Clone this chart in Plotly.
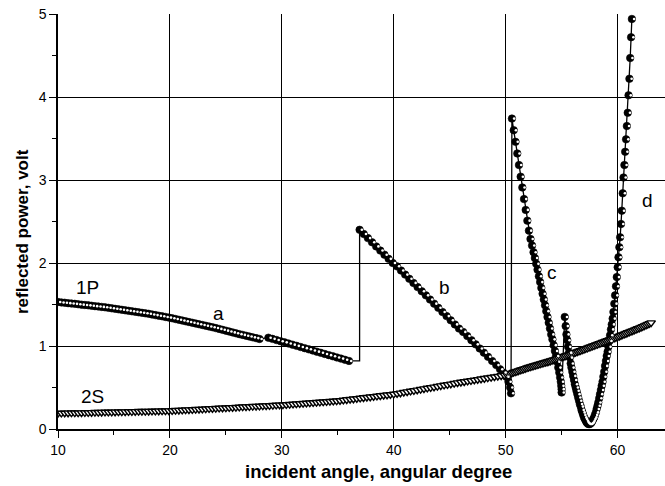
import plotly.graph_objects as go

# ---------------- data ----------------
# series 2S (triangles)
s2_x = [10.0, 10.3, 10.6, 10.9, 11.2, 11.5, 11.8, 12.1, 12.4, 12.7,
        13.0, 13.3, 13.6, 13.9, 14.2, 14.5, 14.8, 15.1, 15.4, 15.7,
        16.0, 16.3, 16.6, 16.9, 17.2, 17.5, 17.8, 18.1, 18.4, 18.7,
        19.0, 19.3, 19.6, 19.9, 20.2, 20.5, 20.8, 21.1, 21.4, 21.7,
        22.0, 22.3, 22.6, 22.9, 23.2, 23.5, 23.8, 24.1, 24.4, 24.7,
        25.0, 25.3, 25.6, 25.9, 26.2, 26.5, 26.8, 27.1, 27.4, 27.7,
        28.0, 28.3, 28.6, 28.9, 29.2, 29.5, 29.8, 30.1, 30.4, 30.7,
        31.0, 31.3, 31.6, 31.9, 32.2, 32.5, 32.8, 33.1, 33.4, 33.7,
        34.0, 34.3, 34.6, 34.9, 35.2, 35.5, 35.8, 36.1, 36.4, 36.7,
        37.0, 37.3, 37.6, 37.9, 38.2, 38.5, 38.8, 39.1, 39.4, 39.7,
        40.0, 40.3, 40.6, 40.9, 41.2, 41.5, 41.8, 42.1, 42.4, 42.7,
        43.0, 43.3, 43.6, 43.9, 44.2, 44.5, 44.8, 45.1, 45.4, 45.7,
        46.0, 46.3, 46.6, 46.9, 47.2, 47.5, 47.8, 48.1, 48.4, 48.7,
        49.0, 49.3, 49.6, 49.9,
        50.10, 50.25, 50.40, 50.55, 50.70, 50.85, 51.00, 51.15, 51.30, 51.45,
        51.60, 51.75, 51.90, 52.05, 52.20, 52.35, 52.50, 52.65, 52.80, 52.95,
        53.10, 53.25, 53.40, 53.55, 53.70, 53.85, 54.00, 54.15, 54.30, 54.45,
        54.60, 54.75, 54.90, 55.05, 55.20, 55.35, 55.50, 55.65, 55.80, 55.95,
        56.10, 56.25, 56.40, 56.55, 56.70, 56.85, 57.00, 57.15, 57.30, 57.45,
        57.60, 57.75, 57.90, 58.05, 58.20, 58.35, 58.50, 58.65, 58.80, 58.95,
        59.10, 59.25, 59.40, 59.55, 59.70, 59.85, 60.00, 60.15, 60.30, 60.45,
        60.60, 60.75, 60.90, 61.05, 61.20, 61.35, 61.50, 61.65, 61.80, 61.95,
        62.10, 62.25, 62.40, 62.55, 62.70, 62.85, 63.00]
s2_y = [0.190, 0.191, 0.192, 0.193, 0.194, 0.195, 0.195, 0.196, 0.197, 0.198,
        0.199, 0.200, 0.201, 0.202, 0.203, 0.204, 0.204, 0.205, 0.206, 0.207,
        0.208, 0.209, 0.210, 0.211, 0.212, 0.213, 0.213, 0.214, 0.215, 0.216,
        0.217, 0.218, 0.219, 0.220, 0.221, 0.224, 0.226, 0.228, 0.230, 0.232,
        0.234, 0.236, 0.238, 0.240, 0.242, 0.245, 0.247, 0.249, 0.251, 0.253,
        0.255, 0.257, 0.259, 0.261, 0.263, 0.266, 0.268, 0.270, 0.272, 0.274,
        0.276, 0.278, 0.280, 0.282, 0.284, 0.287, 0.289, 0.291, 0.294, 0.297,
        0.300, 0.303, 0.306, 0.309, 0.312, 0.315, 0.318, 0.321, 0.324, 0.327,
        0.330, 0.333, 0.336, 0.339, 0.343, 0.348, 0.353, 0.358, 0.362, 0.367,
        0.372, 0.377, 0.382, 0.386, 0.391, 0.396, 0.401, 0.406, 0.410, 0.415,
        0.420, 0.427, 0.434, 0.442, 0.449, 0.456, 0.463, 0.470, 0.478, 0.485,
        0.492, 0.499, 0.506, 0.514, 0.521, 0.528, 0.535, 0.542, 0.550, 0.557,
        0.564, 0.570, 0.577, 0.583, 0.590, 0.596, 0.603, 0.609, 0.616, 0.622,
        0.629, 0.635, 0.642, 0.648,
        0.655, 0.661, 0.668, 0.675, 0.682, 0.688, 0.695, 0.702, 0.709, 0.715,
        0.722, 0.729, 0.736, 0.742, 0.748, 0.754, 0.760, 0.766, 0.772, 0.778,
        0.784, 0.790, 0.796, 0.802, 0.808, 0.814, 0.820, 0.827, 0.834, 0.840,
        0.847, 0.854, 0.861, 0.867, 0.874, 0.881, 0.888, 0.894, 0.901, 0.908,
        0.915, 0.923, 0.930, 0.938, 0.945, 0.953, 0.960, 0.968, 0.975, 0.983,
        0.990, 0.998, 1.005, 1.013, 1.020, 1.028, 1.035, 1.043, 1.050, 1.058,
        1.065, 1.073, 1.080, 1.088, 1.095, 1.103, 1.110, 1.118, 1.127, 1.135,
        1.143, 1.151, 1.160, 1.168, 1.176, 1.184, 1.193, 1.201, 1.209, 1.217,
        1.226, 1.235, 1.244, 1.253, 1.262, 1.271, 1.280]

# series 1P, branch a (two pieces with a small gap)
a1_x = [10.0, 10.3, 10.6, 10.9, 11.2, 11.5, 11.8, 12.1, 12.4, 12.7,
        13.0, 13.3, 13.6, 13.9, 14.2, 14.5, 14.8, 15.1, 15.4, 15.7,
        16.0, 16.3, 16.6, 16.9, 17.2, 17.5, 17.8, 18.1, 18.4, 18.7,
        19.0, 19.3, 19.6, 19.9, 20.2, 20.5, 20.8, 21.1, 21.4, 21.7,
        22.0, 22.3, 22.6, 22.9, 23.2, 23.5, 23.8, 24.1, 24.4, 24.7,
        25.0, 25.3, 25.6, 25.9, 26.2, 26.5, 26.8, 27.1, 27.4, 27.7,
        28.0]
a1_y = [1.530, 1.525, 1.521, 1.516, 1.512, 1.508, 1.503, 1.498, 1.494, 1.490,
        1.485, 1.480, 1.476, 1.471, 1.466, 1.460, 1.454, 1.448, 1.442, 1.436,
        1.430, 1.424, 1.418, 1.412, 1.406, 1.400, 1.394, 1.388, 1.380, 1.372,
        1.365, 1.358, 1.350, 1.342, 1.334, 1.325, 1.316, 1.307, 1.298, 1.289,
        1.280, 1.271, 1.262, 1.253, 1.244, 1.235, 1.226, 1.216, 1.206, 1.195,
        1.185, 1.174, 1.164, 1.153, 1.143, 1.134, 1.124, 1.114, 1.104, 1.095,
        1.085]
a2_x = [28.80, 29.16, 29.52, 29.88, 30.24, 30.60, 30.96, 31.32, 31.68, 32.04,
        32.40, 32.76, 33.12, 33.48, 33.84, 34.20, 34.56, 34.92, 35.28, 35.64,
        36.00]
a2_y = [1.100, 1.086, 1.072, 1.058, 1.044, 1.030, 1.016, 1.002, 0.988, 0.974,
        0.960, 0.946, 0.932, 0.918, 0.904, 0.890, 0.876, 0.862, 0.848, 0.834,
        0.820]

# branch b
b_x = [36.95, 37.32, 37.69, 38.06, 38.43, 38.80, 39.17, 39.54, 39.91, 40.28,
       40.65, 41.02, 41.39, 41.76, 42.13, 42.50, 42.87, 43.24, 43.61, 43.98,
       44.35, 44.72, 45.09, 45.46, 45.83, 46.20, 46.57, 46.94, 47.31, 47.68,
       48.05, 48.42, 48.79, 49.16, 49.50, 49.80, 50.05, 50.25, 50.40, 50.48]
b_y = [2.40, 2.35, 2.30, 2.25, 2.20, 2.15, 2.10, 2.05, 2.00, 1.96,
       1.91, 1.86, 1.81, 1.76, 1.71, 1.66, 1.61, 1.56, 1.51, 1.46,
       1.41, 1.36, 1.31, 1.26, 1.21, 1.17, 1.12, 1.07, 1.02, 0.97,
       0.92, 0.87, 0.82, 0.77, 0.72, 0.68, 0.63, 0.57, 0.50, 0.43]

# branch c
c_x = [50.56, 50.72, 50.88, 51.04, 51.19, 51.34, 51.49, 51.64, 51.79, 51.94,
       52.08, 52.22, 52.36, 52.49, 52.61, 52.73, 52.85, 52.97, 53.08, 53.19,
       53.30, 53.41, 53.52, 53.63, 53.74, 53.85, 53.96, 54.07, 54.18, 54.29,
       54.40, 54.50, 54.60, 54.70, 54.79, 54.87, 54.93, 54.97, 55.00, 55.00]
c_y = [3.74, 3.60, 3.46, 3.32, 3.18, 3.04, 2.91, 2.77, 2.64, 2.51,
       2.39, 2.29, 2.21, 2.13, 2.06, 1.99, 1.92, 1.84, 1.77, 1.70,
       1.63, 1.56, 1.49, 1.42, 1.35, 1.28, 1.21, 1.14, 1.08, 1.01,
       0.94, 0.88, 0.81, 0.74, 0.68, 0.62, 0.57, 0.52, 0.48, 0.44]

# branch d
d_x = [55.28, 55.36, 55.43, 55.51, 55.58, 55.66, 55.73, 55.81, 55.88, 55.96,
       56.03, 56.11, 56.18, 56.26, 56.33, 56.41, 56.48, 56.56, 56.63, 56.71,
       56.78, 56.86, 56.93, 57.01, 57.08, 57.16, 57.23, 57.31, 57.38, 57.46,
       57.53, 57.61, 57.68, 57.76, 57.83, 57.91, 57.98, 58.06, 58.13, 58.21,
       58.28, 58.36, 58.43, 58.51, 58.58, 58.66, 58.73, 58.81, 58.88, 58.96,
       59.03, 59.11, 59.18, 59.26, 59.33, 59.41, 59.48, 59.56, 59.63, 59.71,
       59.78, 59.86, 59.93, 60.01, 60.08, 60.16, 60.23, 60.31, 60.38, 60.46,
       60.53, 60.61, 60.68, 60.76, 60.83, 60.91, 60.98, 61.06, 61.13, 61.21,
       61.28]
d_y = [1.35, 1.24, 1.14, 1.07, 0.99, 0.92, 0.86, 0.79, 0.74, 0.69,
       0.64, 0.59, 0.54, 0.50, 0.46, 0.42, 0.38, 0.34, 0.30, 0.27,
       0.23, 0.20, 0.17, 0.14, 0.12, 0.10, 0.08, 0.07, 0.06, 0.06,
       0.06, 0.07, 0.08, 0.10, 0.12, 0.14, 0.17, 0.20, 0.24, 0.28,
       0.32, 0.37, 0.42, 0.47, 0.52, 0.57, 0.63, 0.69, 0.76, 0.82,
       0.88, 0.93, 0.99, 1.06, 1.13, 1.20, 1.26, 1.33, 1.41, 1.51,
       1.61, 1.72, 1.83, 1.95, 2.07, 2.19, 2.31, 2.47, 2.63, 2.84,
       3.03, 3.18, 3.34, 3.49, 3.65, 3.81, 4.02, 4.22, 4.47, 4.72,
       4.94]

for xs, ys in [(s2_x, s2_y), (a1_x, a1_y), (a2_x, a2_y), (b_x, b_y), (c_x, c_y), (d_x, d_y)]:
    assert len(xs) == len(ys), (len(xs), len(ys))

x_ticks = [10, 20, 30, 40, 50, 60]
y_ticks = [0, 1, 2, 3, 4, 5]

# curve labels: (text, x, y)
labels = [("1P", 12.6, 1.71), ("a", 24.3, 1.39), ("2S", 13.1, 0.39),
          ("b", 44.5, 1.70), ("c", 54.1, 1.88), ("d", 62.7, 2.75)]

FONT = "Liberation Sans, Arial, sans-serif"

fig = go.Figure()

p_x = a1_x + a2_x + b_x + c_x + d_x
p_y = a1_y + a2_y + b_y + c_y + d_y

# connecting line of the 1P scan (with the step between branch a and b)
line_x = a1_x + a2_x + [b_x[0]] + b_x + c_x + d_x
line_y = a1_y + a2_y + [a2_y[-1]] + b_y + c_y + d_y
fig.add_trace(go.Scatter(x=line_x, y=line_y, mode="lines",
                         line=dict(color="black", width=1.3),
                         hoverinfo="skip", showlegend=False))

# 1P markers: black circles with a white right-hand highlight (half-filled look)
fig.add_trace(go.Scatter(
    x=p_x, y=p_y, mode="markers", showlegend=False,
    marker=dict(symbol="circle", size=7.5, color="black",
                line=dict(color="black", width=0.6))))
fig.add_trace(go.Scatter(
    x=p_x, y=p_y, mode="markers", showlegend=False, hoverinfo="skip",
    xaxis="x2",
    marker=dict(symbol="circle", size=2.6, color="white", line=dict(width=0))))

# 2S markers: open down-triangles
fig.add_trace(go.Scatter(
    x=s2_x, y=s2_y, mode="markers", showlegend=False,
    marker=dict(symbol="triangle-down", size=7.5, color="white",
                line=dict(color="black", width=1.45))))

for t, lx, ly in labels:
    fig.add_annotation(x=lx, y=ly, xref="x", yref="y", text=t, showarrow=False,
                       xanchor="center", yanchor="middle",
                       font=dict(family=FONT, size=19, color="black"))

fig.add_annotation(x=(379 - 58) / 607, y=(429 - 471) / 415, xref="paper", yref="paper",
                   xanchor="center", yanchor="middle",
                   text="<b>incident angle, angular degree</b>", showarrow=False,
                   font=dict(family=FONT, size=18.5, color="black"))
fig.add_annotation(x=(22 - 58) / 607, y=(429 - 232) / 415, xref="paper", yref="paper",
                   xanchor="center", yanchor="middle",
                   text="<b>reflected power, volt</b>", showarrow=False, textangle=-90,
                   font=dict(family=FONT, size=17, color="black"))

axis_common = dict(showgrid=True, gridcolor="black", gridwidth=1,
                   showline=True, linecolor="black", linewidth=1.5,
                   zeroline=False, ticks="outside", ticklen=7, tickwidth=1,
                   tickcolor="black",
                   tickfont=dict(family=FONT, size=14, color="black"))

X_RANGE = [10, 64.24]
# highlight axis: same scale, shifted a little so the white dot sits right of centre
HL_SHIFT = 0.2
fig.update_layout(xaxis2=dict(range=[X_RANGE[0] - HL_SHIFT, X_RANGE[1] - HL_SHIFT],
                              overlaying="x", visible=False, showgrid=False))

fig.update_layout(xaxis=dict(range=X_RANGE, tickmode="array", tickvals=x_ticks,
                             ticktext=[str(v) for v in x_ticks],
                             minor=dict(ticks="outside", ticklen=4, tickcolor="black",
                                        dtick=5, tick0=10, showgrid=False),
                             ticklabelstandoff=0, **axis_common))
fig.update_yaxes(range=[0, 5], tickmode="array", tickvals=y_ticks,
                 ticktext=[str(v) for v in y_ticks],
                 minor=dict(ticks="outside", ticklen=4, tickcolor="black",
                            dtick=0.5, tick0=0, showgrid=False),
                 **axis_common)

fig.update_layout(width=665, height=486, margin=dict(l=58, r=0, t=14, b=57),
                  plot_bgcolor="white", paper_bgcolor="white",
                  font=dict(family=FONT, color="black"), showlegend=False)

fig.write_html("out.html", config={"displayModeBar": False},
               post_script="document.body.style.margin='0px';")
